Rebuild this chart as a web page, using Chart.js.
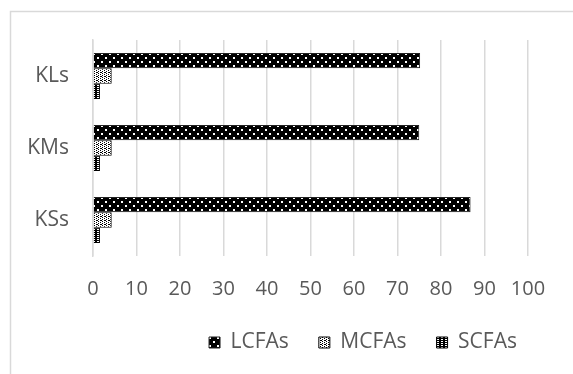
<!DOCTYPE html>
<html>
<head>
<meta charset="utf-8">
<script src="https://cdn.jsdelivr.net/npm/chart.js@4/dist/chart.umd.min.js"></script>
<style>
  html, body { margin: 0; padding: 0; background: #fff; }
  #wrap { width: 573px; height: 374px; position: relative; }
</style>
</head>
<body>
<div id="wrap"><canvas id="c" width="573" height="374"></canvas></div>
<script>
// Fatty-acid groups per sample
const categories = ['KLs', 'KMs', 'KSs'];
const lcfas = [75.2, 75.0, 86.8];
const mcfas = [4.3, 4.3, 4.3];
const scfas = [1.6, 1.6, 1.6];
const xTicks = [0, 10, 20, 30, 40, 50, 60, 70, 80, 90, 100];

// Small tiled fills for the bars
function makePattern(size, bg, fg, cells) {
  const p = document.createElement('canvas');
  p.width = size; p.height = size;
  const g = p.getContext('2d');
  g.fillStyle = bg; g.fillRect(0, 0, size, size);
  g.fillStyle = fg;
  cells.forEach(([x, y, w, h]) => g.fillRect(x, y, w, h));
  return document.createElement('canvas').getContext('2d').createPattern(p, 'repeat');
}
const lcfaFill = makePattern(8, '#000', '#fff', [[1, 1, 2, 2], [5, 5, 2, 2]]);
const mcfaFill = makePattern(4, '#fff', '#000', [[0, 0, 1, 1], [2, 1, 1, 1], [0, 2, 1, 1], [2, 3, 1, 1], [1, 0, 1, 1]]);
const scfaFill = makePattern(4, '#000', '#fff', [[1, 1, 2, 1], [1, 3, 2, 1]]);

// Outer frame around the chart
const framePlugin = {
  id: 'frame',
  beforeDraw(chart) {
    const ctx = chart.ctx;
    ctx.save();
    ctx.strokeStyle = '#d9d9d9';
    ctx.lineWidth = 1.5;
    ctx.strokeRect(10.5, 11.5, 700, 500);
    ctx.restore();
  }
};

// The legend is centred on the full (wider) frame, so move its box right
const LEGEND_CENTER = 363;
const legendShift = {
  id: 'legendShift',
  afterLayout(chart) {
    const lg = chart.legend;
    if (!lg) return;
    const dx = LEGEND_CENTER - (lg.left + lg.right) / 2;
    lg.left += dx;
    lg.right += dx;
  }
};

const fontFamily = '"Open Sans", "Liberation Sans", sans-serif';
const textColor = '#595959';

new Chart(document.getElementById('c'), {
  type: 'bar',
  data: {
    labels: categories,
    datasets: [
      { label: 'LCFAs', data: lcfas, backgroundColor: lcfaFill, borderColor: '#222', borderWidth: 1 },
      { label: 'MCFAs', data: mcfas, backgroundColor: mcfaFill, borderColor: '#000', borderWidth: 1 },
      { label: 'SCFAs', data: scfas, backgroundColor: scfaFill, borderColor: '#000', borderWidth: 1 }
    ]
  },
  options: {
    indexAxis: 'y',
    responsive: false,
    animation: false,
    devicePixelRatio: 1,
    layout: { padding: { left: 20, right: 45, top: 40, bottom: 11 } },
    datasets: { bar: { barPercentage: 1.0, categoryPercentage: 0.64 } },
    scales: {
      x: {
        min: 0, max: 100,
        afterBuildTicks(scale) { scale.ticks = xTicks.map(v => ({ value: v })); },
        afterFit(scale) {
          scale.height = 46;
          scale.paddingLeft = 0;
          scale.paddingRight = 0;
        },
        grid: { color: '#d9d9d9', lineWidth: 1.5, drawTicks: false },
        border: { display: false },
        ticks: { color: textColor, font: { family: fontFamily, size: 20 }, padding: 21 }
      },
      y: {
        afterFit(scale) { scale.width = 73; },
        grid: { display: false, drawTicks: false },
        border: { display: true, color: '#d9d9d9', width: 1.5 },
        ticks: { color: textColor, font: { family: fontFamily, size: 21 }, padding: 24 }
      }
    },
    plugins: {
      legend: {
        position: 'bottom',
        labels: {
          color: textColor,
          font: { family: fontFamily, size: 21 },
          boxWidth: 11, boxHeight: 11,
          padding: 30
        }
      },
      tooltip: { enabled: false }
    }
  },
  plugins: [framePlugin, legendShift]
});
</script>
</body>
</html>
